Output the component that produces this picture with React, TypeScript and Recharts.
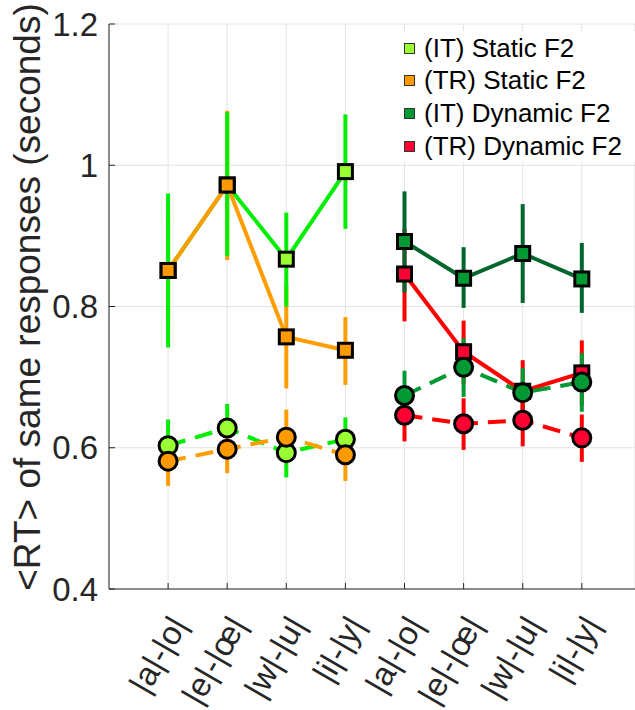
import { ScatterChart, Scatter, XAxis, YAxis, CartesianGrid, ErrorBar } from "recharts";

const tickLabels = ["|a|-|o|", "|e|-|œ|", "|w|-|u|", "|i|-|y|", "|a|-|o|", "|e|-|œ|", "|w|-|u|", "|i|-|y|"];
const staticPos = [1, 2, 3, 4];
const dynamicPos = [5, 6, 7, 8];
const xTicks = [1, 2, 3, 4, 5, 6, 7, 8];
const yTicks = [0.4, 0.6, 0.8, 1, 1.2];

// squares, solid lines
const itStaticSq = [0.851, 0.972, 0.867, 0.991];
const itStaticSqLo = [0.742, 0.871, 0.8, 0.91];
const itStaticSqHi = [0.96, 1.075, 0.933, 1.072];
const trStaticSq = [0.851, 0.972, 0.757, 0.738];
const trStaticSqLo = [0.78, 0.866, 0.684, 0.689];
const trStaticSqHi = [0.92, 1.077, 0.83, 0.785];
const itDynSq = [0.892, 0.84, 0.875, 0.839];
const itDynSqLo = [0.82, 0.798, 0.805, 0.791];
const itDynSqHi = [0.963, 0.884, 0.945, 0.89];
const trDynSq = [0.846, 0.736, 0.68, 0.706];
const trDynSqLo = [0.779, 0.69, 0.64, 0.66];
const trDynSqHi = [0.91, 0.78, 0.724, 0.752];

// circles, dashed lines
const itStaticCi = [0.603, 0.628, 0.593, 0.612];
const itStaticCiLo = [0.57, 0.595, 0.558, 0.58];
const itStaticCiHi = [0.64, 0.662, 0.625, 0.643];
const trStaticCi = [0.581, 0.598, 0.615, 0.59];
const trStaticCiLo = [0.546, 0.564, 0.58, 0.553];
const trStaticCiHi = [0.615, 0.632, 0.654, 0.625];
const itDynCi = [0.674, 0.714, 0.678, 0.693];
const itDynCiLo = [0.64, 0.672, 0.651, 0.651];
const itDynCiHi = [0.709, 0.755, 0.713, 0.734];
const trDynCi = [0.646, 0.634, 0.639, 0.614];
const trDynCiLo = [0.609, 0.597, 0.602, 0.58];
const trDynCiHi = [0.68, 0.67, 0.675, 0.647];

const legendItems = [
  { name: "(IT) Static F2", fill: "#99ff33" },
  { name: "(TR) Static F2", fill: "#ff9900" },
  { name: "(IT) Dynamic F2", fill: "#009933" },
  { name: "(TR) Dynamic F2", fill: "#ff0033" },
];

const FONT = '"Liberation Sans", Arial, Helvetica, sans-serif';
const INK = "#262626";

function rows(pos: number[], mean: number[], lo: number[], hi: number[]) {
  return pos.map((x, i) => ({ x, y: mean[i], err: [mean[i] - lo[i], hi[i] - mean[i]] }));
}

interface Series {
  key: string;
  data: { x: number; y: number; err: number[] }[];
  marker: "square" | "circle";
  line: string;
  bar: string;
  fill: string;
  dashed: boolean;
}

const squares: Series[] = [
  { key: "itsq", data: rows(staticPos, itStaticSq, itStaticSqLo, itStaticSqHi), marker: "square", line: "#00ee00", bar: "#00ee00", fill: "#99ff33", dashed: false },
  { key: "trsq", data: rows(staticPos, trStaticSq, trStaticSqLo, trStaticSqHi), marker: "square", line: "#ff9c00", bar: "#ff9c00", fill: "#ff9900", dashed: false },
  { key: "itdsq", data: rows(dynamicPos, itDynSq, itDynSqLo, itDynSqHi), marker: "square", line: "#00662e", bar: "#00662e", fill: "#009933", dashed: false },
  { key: "trdsq", data: rows(dynamicPos, trDynSq, trDynSqLo, trDynSqHi), marker: "square", line: "#ff0000", bar: "#ff0000", fill: "#ff0033", dashed: false },
];
const circles: Series[] = [
  { key: "itci", data: rows(staticPos, itStaticCi, itStaticCiLo, itStaticCiHi), marker: "circle", line: "#00ee00", bar: "#00ee00", fill: "#99ff33", dashed: true },
  { key: "trci", data: rows(staticPos, trStaticCi, trStaticCiLo, trStaticCiHi), marker: "circle", line: "#ff9c00", bar: "#ff9c00", fill: "#ff9900", dashed: true },
  { key: "itdci", data: rows(dynamicPos, itDynCi, itDynCiLo, itDynCiHi), marker: "circle", line: "#009933", bar: "#009933", fill: "#009933", dashed: true },
  { key: "trdci", data: rows(dynamicPos, trDynCi, trDynCiLo, trDynCiHi), marker: "circle", line: "#ff0000", bar: "#ff0000", fill: "#ff0033", dashed: true },
];

function YLabel() {
  return (
    <text
      transform="translate(40,297) rotate(-90)"
      textAnchor="middle"
      fontSize={37}
      fontFamily={FONT}
      fill={INK}
    >
      {"<RT> of same responses (seconds)"}
    </text>
  );
}

function markerShape(s: Series) {
  return (p: any) => {
    const { cx, cy } = p;
    if (cx == null || cy == null) return <g />;
    if (s.marker === "square")
      return <rect x={cx - 7} y={cy - 7} width={14} height={14} fill={s.fill} stroke="#000" strokeWidth={3} />;
    return <circle cx={cx} cy={cy} r={9} fill={s.fill} stroke="#000" strokeWidth={3} />;
  };
}

function barsOnly(s: Series) {
  return (
    <Scatter
      key={s.key + "-bars"}
      data={s.data}
      dataKey="y"
      shape={() => <g />}
      isAnimationActive={false}
    >
      <ErrorBar dataKey="err" direction="y" width={0} stroke={s.bar} strokeWidth={4} isAnimationActive={false} />
    </Scatter>
  );
}

function marks(s: Series) {
  return (
    <Scatter
      key={s.key + "-marks"}
      data={s.data}
      dataKey="y"
      line={{ stroke: s.line, strokeWidth: 4, strokeDasharray: s.dashed ? "18 10" : undefined }}
      lineJointType="linear"
      shape={markerShape(s)}
      isAnimationActive={false}
    />
  );
}

export default function App() {
  return (
    <div style={{ position: "absolute", left: 0, top: 0, width: 635, height: 710, background: "#fff" }}>
      <ScatterChart width={635} height={710} margin={{ top: 24, right: 0, bottom: 0, left: 0 }}>
        <CartesianGrid stroke="#e3e3e3" strokeWidth={1} />
        {/* negative tickSize turns the tick marks inward, like the original */}
        <XAxis
          type="number"
          dataKey="x"
          domain={[0, 8.9]}
          ticks={xTicks}
          interval={0}
          height={121}
          tickSize={-6}
          tickMargin={30}
          tickLine={{ stroke: INK }}
          tickFormatter={(v: number) => tickLabels[Math.round(v) - 1] ?? ""}
          tick={{ angle: -60, textAnchor: "end", fontSize: 33, fontFamily: FONT, fill: INK }}
          axisLine={{ stroke: INK, strokeWidth: 1 }}
        />
        <XAxis
          xAxisId="top"
          orientation="top"
          type="number"
          domain={[0, 8.9]}
          ticks={xTicks}
          interval={0}
          height={0}
          tickSize={-6}
          tickLine={{ stroke: INK }}
          tickFormatter={() => ""}
          axisLine={{ stroke: INK, strokeWidth: 1 }}
        />
        <YAxis
          type="number"
          dataKey="y"
          domain={[0.4, 1.2]}
          ticks={yTicks}
          interval={0}
          width={109}
          tickSize={-6}
          tickMargin={17}
          tickLine={{ stroke: INK }}
          tick={{ fontSize: 33, fontFamily: FONT, fill: INK }}
          axisLine={{ stroke: INK, strokeWidth: 1 }}
          label={<YLabel />}
        />
        {[...squares].reverse().map(barsOnly)}
        {squares.map(marks)}
        {circles.map(barsOnly)}
        {circles.map(marks)}
      </ScatterChart>
      <div
        style={{
          position: "absolute",
          left: 393,
          top: 31,
          width: 242,
          height: 131,
          background: "#fff",
          fontFamily: FONT,
          fontSize: 26,
          color: "#000",
        }}
      >
        {legendItems.map((it, i) => (
          <div
            key={it.name}
            style={{ position: "absolute", left: 0, top: 1 + i * 32.7, height: 32, display: "flex", alignItems: "center", whiteSpace: "nowrap" }}
          >
            <span
              style={{
                display: "inline-block",
                width: 9,
                height: 9,
                background: it.fill,
                border: "1px solid #333",
                marginLeft: 11,
                marginRight: 9,
              }}
            />
            <span>{it.name}</span>
          </div>
        ))}
      </div>
    </div>
  );
}
